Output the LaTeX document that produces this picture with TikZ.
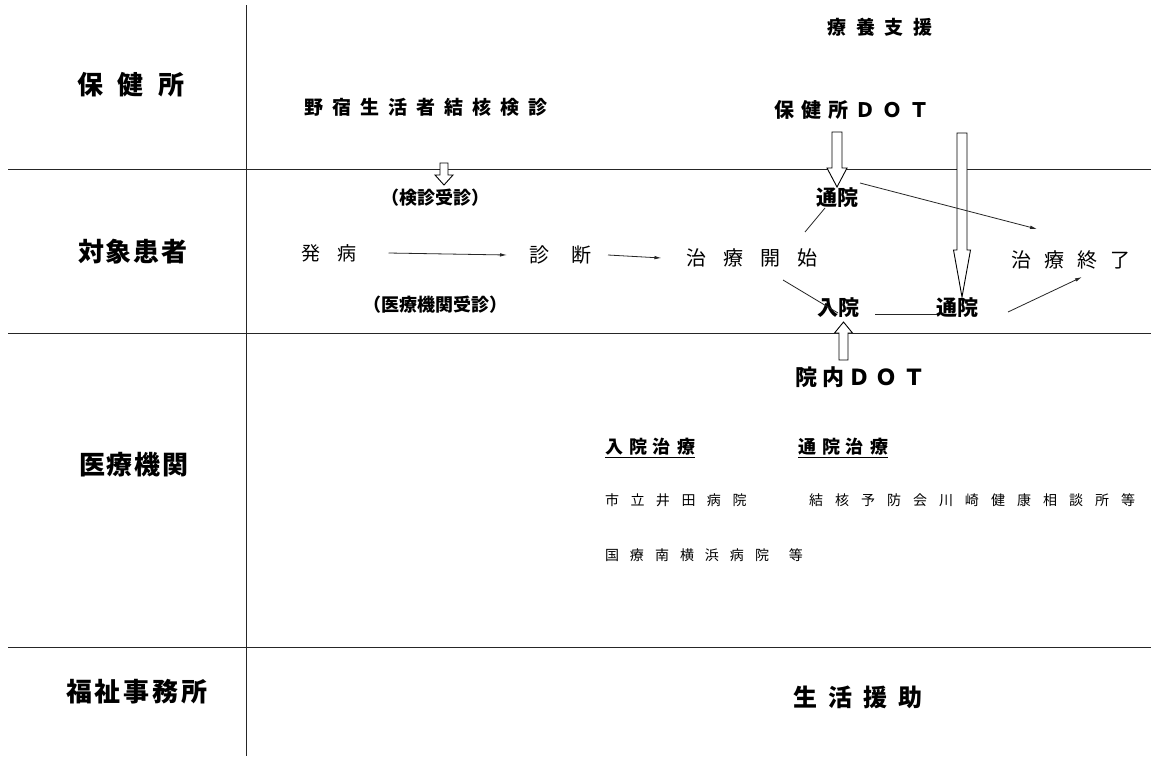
\documentclass[tikz,border=0pt]{standalone}
\usepackage{fontspec}
\setmainfont{Noto Sans CJK JP}
\usetikzlibrary{calc,arrows.meta}

\ExplSyntaxOn
\NewDocumentCommand \spaced { m m }
  { \tl_map_inline:nn {#2} { ##1 \skip_horizontal:n {#1} } \tex_unskip:D }
\ExplSyntaxOff

\newcommand\blockarrow[6]{%
  \pgfmathsetmacro\baS{(#3>#2)?1:-1}%
  \pgfmathsetmacro\baB{#3-\baS*#6}%
  \draw[blockarrow] ({#1-#4},#2) -- ({#1-#4},\baB) -- ({#1-#5},\baB) -- (#1,#3) -- ({#1+#5},\baB) -- ({#1+#4},\baB) -- ({#1+#4},#2) -- cycle;}

\tikzset{
  frame/.style={line width=1pt, black!85},
  blockarrow/.style={draw=black, line width=0.9pt, fill=white, line join=miter},
  conn/.style={line width=0.8pt, black!85},
  arr/.style={conn, -{Latex[length=7pt,width=3.5pt]}},
  lab/.style={font=\fontsize{26}{30}\bfseries\selectfont},
  bold/.style={font=\fontsize{#1}{#1}\bfseries\selectfont},
  reg/.style={font=\fontsize{#1}{#1}\selectfont},
}

\begin{document}
\begin{tikzpicture}[x=1pt,y=-1pt, every node/.style={inner sep=0pt, outer sep=0pt}]
\useasboundingbox (0,0) rectangle (1151,756);
\fill[white] (0,0) rectangle (1151,756);

% frame lines
\draw[frame] (8,169) -- (1151,169);
\draw[frame] (8,333) -- (1151,333);
\draw[frame] (8,647) -- (1151,647);
\draw[frame] (246,5) -- (246,756);

% row labels
\node[lab] (hoken)   at (131,85)  {\spaced{15pt}{保健所}};
\node[lab] (taisho)  at (133,252) {\spaced{2pt}{対象患者}};
\node[lab] (iryo)    at (134,465) {\spaced{2pt}{医療機関}};
\node[lab] (fukushi) at (137,692) {\spaced{3pt}{福祉事務所}};

% health centre row
\node[bold=19] (ryoyo)  at (880,27)  {\spaced{9.5pt}{療養支援}};
\node[bold=19] (nojuku) at (426,107) {\spaced{9pt}{野宿生活者結核検診}};
\node[bold=20] (hdot)   at (852,110) {\spaced{7pt}{保健所ＤＯＴ}};

% patient row
\node[bold=18] (kenshin)    at (435,198) {（検診受診）};
\node[bold=18] (iryojushin) at (435,305) {（医療機関受診）};
\node[bold=21] (tsuin1)     at (837,198) {通院};
\node[reg=19]  (hatsu)      at (329,253) {\spaced{17pt}{発病}};
\node[reg=20]  (shindan)    at (560,255) {\spaced{22pt}{診断}};
\node[reg=20]  (kaishi)     at (752,258) {\spaced{17pt}{治療開始}};
\node[reg=20]  (shuryo)     at (1071,260) {\spaced{13pt}{治療終了}};
\node[bold=21] (nyuin)      at (838,308) {入院};
\node[bold=21] (tsuin2)     at (957,308) {通院};

% medical institution row
\node[bold=22] (indot)       at (860,377) {\spaced{5pt}{院内ＤＯＴ}};
\node[bold=18] (nyuinchiryo) at (650,447) {\spaced{6pt}{入院治療}};
\node[bold=18] (tsuinchiryo) at (843,447) {\spaced{6pt}{通院治療}};
\draw[line width=1pt] ([yshift=-2pt]nyuinchiryo.south west) -- ([yshift=-2pt]nyuinchiryo.south east);
\draw[line width=1pt] ([yshift=-2pt]tsuinchiryo.south west) -- ([yshift=-2pt]tsuinchiryo.south east);
\node[reg=14, anchor=west] (ichiritsu) at (605,500) {\spaced{11.5pt}{市立井田病院}};
\node[reg=14, anchor=east] (kekkaku)   at (1135,500) {\spaced{12pt}{結核予防会川崎健康相談所等}};
\node[reg=14, anchor=west] (kokuryo)   at (605,555) {\spaced{11pt}{国療南横浜病院}\hspace{20pt}等};

% welfare row
\node[bold=24] (seikatsu) at (858,697) {\spaced{11pt}{生活援助}};

% block arrows
\blockarrow{444}{163}{185}{4}{9}{10}
\blockarrow{837}{132}{187}{5}{10}{19}
\blockarrow{962}{133}{297}{5}{8.5}{47}
\blockarrow{843.5}{360}{322}{4.5}{9}{11}

% connectors
\draw[arr] ($(hatsu.east)+(32,0)$) -- ($(shindan.west)+(-22,0)$);
\draw[arr] ($(shindan.east)+(17,0)$) -- ($(kaishi.west)+(-25,0)$);
\draw[conn] ($(tsuin1.center)+(-12,10)$) -- ($(kaishi.center)+(53,-26)$);
\draw[arr] ($(tsuin1.center)+(23,-15)$) -- ($(shuryo.center)+(-34,-31)$);
\draw[conn] ($(kaishi.center)+(31,22)$) -- ($(nyuin.center)+(0,5)$);
\draw[conn] ($(nyuin.center)+(37,6)$) -- ($(tsuin2.center)+(-20,6)$);
\draw[arr] ($(tsuin2.center)+(51,4)$) -- ($(shuryo.center)+(11,17)$);
\end{tikzpicture}
\end{document}
